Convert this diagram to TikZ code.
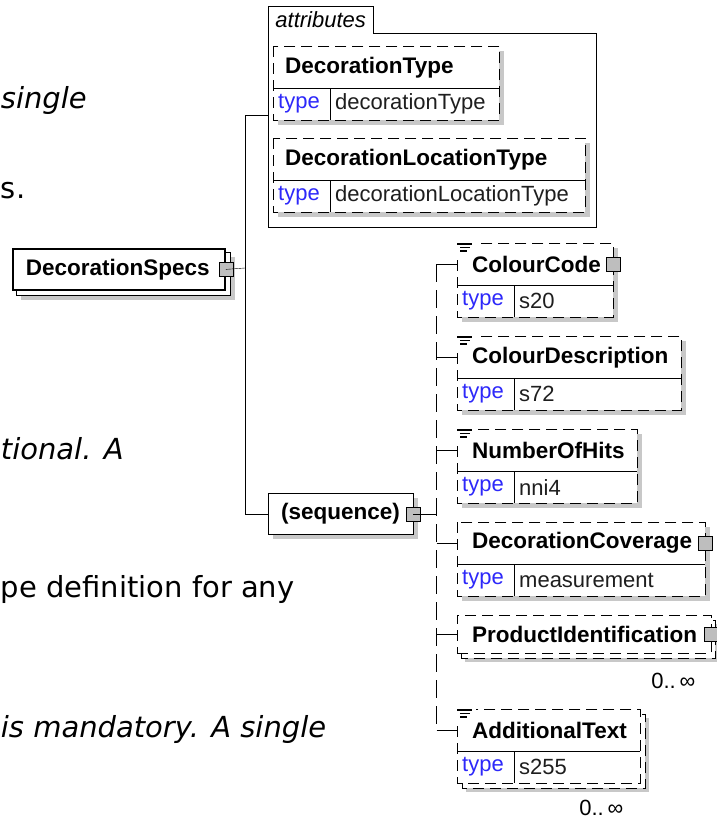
\documentclass[tikz,border=0pt]{standalone}
\usepackage{fontspec}
\setmainfont{Liberation Sans}
\newfontfamily\pagefont{DejaVu Sans}[ItalicFont={DejaVu Sans Oblique}]
\usepackage{xcolor}
\usepackage{tikz}
\usetikzlibrary{positioning,calc}
\definecolor{linkblue}{RGB}{45,40,250}
\definecolor{valink}{RGB}{30,30,30}
\definecolor{shadowgray}{RGB}{200,200,200}
\definecolor{plusfill}{RGB}{190,190,190}
\pgfdeclarelayer{shade}
\pgfdeclarelayer{back}
\pgfsetlayers{shade,back,main}
% element box with a type row: name, top-left, width, title, type, indent
\newcommand{\typedbox}[6]{%
  \node[namerow, minimum width=#3pt, anchor=north west] (#1) at (#2) {};
  \node[elname] (#1-n) at ([xshift=#6]#1.west) {#4};
  \node[typerow, minimum width=#3pt, anchor=north west] (#1-t) at (#1.south west) {};
  \node[typekey] (#1-k) at ([xshift=5pt]#1-t.west) {type};
  \node[typeval] (#1-v) at ([xshift=62pt]#1-t.west) {#5};
  \draw[optline] (#1.north west) rectangle (#1-t.south east);
  \draw (#1.south west) -- (#1.south east)
        ([xshift=57pt]#1-t.north west) -- ([xshift=57pt]#1-t.south west);
  \begin{pgfonlayer}{shade}
    \fill[shadowgray] ([shift={(5,5)}]#1.north west) rectangle ([shift={(5,5)}]#1-t.south east);
  \end{pgfonlayer}}
% documentation mark in the top left corner
\newcommand{\docmark}[1]{%
  \fill[white] ([shift={(-2,-3)}]#1.north west) rectangle ([shift={(19,12)}]#1.north west);
  \draw[line width=1.3pt] ([shift={(0,1)}]#1.north west) -- ++(15,0)
    ([shift={(3,4.5)}]#1.north west) -- ++(10,0)
    ([shift={(3,8)}]#1.north west) -- ++(7,0);}

\begin{document}
\begin{tikzpicture}[x=1pt, y=-1pt, line width=1.8pt,
  namerow/.style={fill=white, minimum height=42pt, inner sep=0pt},
  typerow/.style={fill=white, minimum height=31pt, inner sep=0pt},
  elname/.style={anchor=west, inner sep=0pt, font=\bfseries\fontsize{22.5}{27}\selectfont},
  typekey/.style={anchor=west, inner sep=0pt, text=linkblue, font=\fontsize{22}{26}\selectfont},
  typeval/.style={anchor=west, inner sep=0pt, text=valink, font=\fontsize{22}{26}\selectfont},
  optline/.style={dash pattern=on 11pt off 6pt},
  spine/.style={dash pattern=on 18pt off 8pt},
  solidbox/.style={draw, fill=white, inner sep=0pt},
  xbox/.style={draw, fill=plusfill, minimum size=14pt, inner sep=0pt},
  occ/.style={inner sep=0pt, anchor=base east, font=\fontsize{22}{26}\selectfont},
  pagetext/.style={inner sep=0pt, anchor=base west, font=\pagefont\fontsize{29}{35}\selectfont}]
\useasboundingbox (0,0) rectangle (717,819);

% page text behind the diagram
\node[pagetext] (p1) at (0,108) {\itshape single};
\node[pagetext] (p2) at (0,198) {s.};
\node[pagetext] (p3) at (0,459) {\itshape tional. A};
\node[pagetext] (p4) at (0,597) {pe definition for any};
\node[pagetext] (p5) at (0,737) {\itshape is mandatory. A single};

% root element
\node[solidbox, minimum width=212pt, minimum height=41pt, anchor=north west] (ds) at (12,248) {};
\node[elname] (ds-n) at ([xshift=13pt]ds.west) {DecorationSpecs};
\begin{pgfonlayer}{back}
  \draw[fill=white] ([shift={(4,4)}]ds.north west) rectangle ([shift={(4,4)}]ds.south east);
\end{pgfonlayer}
\begin{pgfonlayer}{shade}
  \fill[shadowgray] ([shift={(9,9)}]ds.north west) rectangle ([shift={(9,9)}]ds.south east);
\end{pgfonlayer}
\node[xbox] (ds-x) at (ds.east) {};

% attributes group
\node[inner sep=0pt, minimum width=105pt, minimum height=26pt, anchor=south west,
      font=\itshape\fontsize{22}{26}\selectfont] (attr-tab) at (268,33) {attributes};
\node[inner sep=0pt, minimum width=328pt, minimum height=194pt, anchor=north west] (attr) at (268,33) {};
\draw (attr.south west) -- (attr-tab.north west) -- (attr-tab.north east)
  -- (attr-tab.south east) -- (attr.north east) -- (attr.south east) -- cycle;
\typedbox{dt}{273,46}{226}{DecorationType}{decorationType}{12pt}
\typedbox{dlt}{273,138}{312}{DecorationLocationType}{decorationLocationType}{12pt}

% sequence
\node[solidbox, minimum width=145pt, minimum height=41pt, anchor=north west] (seq) at (268,493) {};
\node[elname] (seq-n) at ([xshift=13pt]seq.west) {(sequence)};
\begin{pgfonlayer}{shade}
  \fill[shadowgray] ([shift={(5,5)}]seq.north west) rectangle ([shift={(5,5)}]seq.south east);
\end{pgfonlayer}
\node[xbox] (seq-x) at (seq.east) {};

% child elements
\typedbox{cc}{457,243}{156}{ColourCode}{s20}{15pt}
\docmark{cc}
\node[xbox] (cc-x) at (cc.east) {};
\typedbox{cdesc}{457,336}{224}{ColourDescription}{s72}{15pt}
\docmark{cdesc}
\typedbox{noh}{457,429}{180}{NumberOfHits}{nni4}{15pt}
\docmark{noh}
\typedbox{dcov}{457,522}{248}{DecorationCoverage}{measurement}{15pt}
\node[xbox] (dcov-x) at (dcov.east) {};

\node[namerow, draw, optline, minimum width=254pt, minimum height=38pt, anchor=north west] (pid) at (457,615) {};
\node[elname] (pid-n) at ([xshift=15pt]pid.west) {ProductIdentification};
\begin{pgfonlayer}{back}
  \draw[optline, fill=white] ([shift={(4,5)}]pid.north west) rectangle ([shift={(4,5)}]pid.south east);
\end{pgfonlayer}
\begin{pgfonlayer}{shade}
  \fill[shadowgray] ([shift={(8,9)}]pid.north west) rectangle ([shift={(8,9)}]pid.south east);
\end{pgfonlayer}
\node[xbox] (pid-x) at (pid.east) {};
\node[occ] (pid-o) at ([shift={(-16,35)}]pid.south east) {0..\,∞};

\typedbox{atxt}{457,709}{183}{AdditionalText}{s255}{15pt}
\docmark{atxt}
\begin{pgfonlayer}{back}
  \draw[optline, fill=white] ([shift={(5,5)}]atxt.north west) rectangle ([shift={(5,5)}]atxt-t.south east);
\end{pgfonlayer}
\begin{pgfonlayer}{shade}
  \fill[shadowgray] ([shift={(9,9)}]atxt.north west) rectangle ([shift={(9,9)}]atxt-t.south east);
\end{pgfonlayer}
\node[occ] (atxt-o) at ([shift={(-17,33)}]atxt-t.south east) {0..\,∞};

% connectors
\coordinate (hub) at (245,268);
\draw (ds-x.center) -- (hub);
\draw (hub) |- ([yshift=15pt]attr.west);
\draw (hub) |- (seq.west);
\coordinate (chub) at ([xshift=16pt]seq-x.east);
\draw (seq-x.center) -- (chub);
\draw[spine] (chub |- cc.west) -- (chub |- atxt.west);
\foreach \e in {cc,cdesc,noh,dcov,pid,atxt}
  \draw (chub |- \e.west) -- (\e.west);
\end{tikzpicture}
\end{document}
